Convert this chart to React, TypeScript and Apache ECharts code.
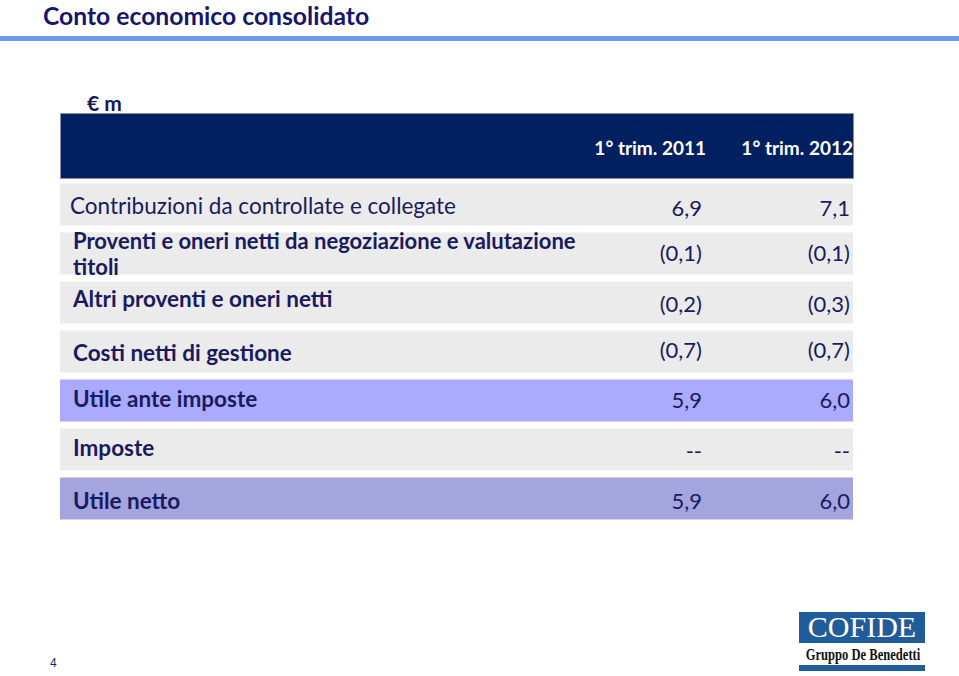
import React, { useEffect, useRef } from 'react';
import * as echarts from 'echarts';

// ---------- data ----------
const titleText = 'Conto economico consolidato';
const unitLabel = '€ m';
const periods = ['1° trim. 2011', '1° trim. 2012'];
const rowLabels = [
  'Contribuzioni da controllate e collegate',
  'Proventi e oneri netti da negoziazione e valutazione\ntitoli',
  'Altri proventi e oneri netti',
  'Costi netti di gestione',
  'Utile ante imposte',
  'Imposte',
  'Utile netto',
];
const values2011: (number | null)[] = [6.9, -0.1, -0.2, -0.7, 5.9, null, 5.9];
const values2012: (number | null)[] = [7.1, -0.1, -0.3, -0.7, 6.0, null, 6.0];
const pageNumber = '4';
const logoName = 'COFIDE';
const logoSub = 'Gruppo De Benedetti';

// ---------- styles / layout ----------
const rowFills = ['#ebebeb', '#ebebeb', '#ebebeb', '#ebebeb', '#aaaaff', '#ebebeb', '#a4a4de'];
const rowBold = [false, true, true, true, true, true, true];
const labelSize = [22.5, 22, 22.5, 22.5, 22.5, 22.5, 22.5];
const labelDy = [0.5, -0.5, -4, 1, -1.7, -2, 2];
const valueDy = [2.5, -1.3, 0.8, -2, -1, 1, 1.5];
const NAVY = '#1a1a5e';
const FONT = 'Lato, "Open Sans", sans-serif';

function fmt(v: number | null): string {
  if (v == null) return '--';
  const s = Math.abs(v).toFixed(1).replace('.', ',');
  return v < 0 ? `(${s})` : s;
}

export default function App() {
  const ref = useRef<HTMLDivElement>(null);
  useEffect(() => {
    if (!ref.current) return;
    const chart = echarts.init(ref.current, undefined, { renderer: 'svg' });
    const gridLeft = 60;
    const gridRight = 106;
    const col1Right = 642; // offset from grid left
    const option: any = {
      animation: false,
      backgroundColor: '#ffffff',
      grid: { left: gridLeft, right: gridRight, top: 180, height: 343 },
      xAxis: { type: 'value', min: 0, max: 1, show: false },
      yAxis: { type: 'category', data: rowLabels, inverse: true, show: false },
      graphic: [
        {
          type: 'text', x: 43, y: 15,
          style: { text: titleText, fill: '#16166c', font: `bold 24.7px ${FONT}`, verticalAlign: 'middle' },
        },
        { type: 'rect', shape: { x: 0, y: 36, width: 959, height: 5 }, style: { fill: '#6b97ee' } },
        {
          type: 'text', x: 87, y: 102,
          style: { text: unitLabel, fill: '#16165e', font: `bold 21px ${FONT}`, verticalAlign: 'middle' },
        },
        {
          type: 'rect', shape: { x: 60.5, y: 113.5, width: 793, height: 65 },
          style: { fill: '#002060', stroke: '#8c8ca6', lineWidth: 1 },
        },
        ...periods.map((p, i) => ({
          type: 'text', x: i === 0 ? 706 : 853, y: 147,
          style: { text: p, fill: '#ffffff', font: `bold 19px ${FONT}`, align: 'right', verticalAlign: 'middle' },
        })),
        {
          type: 'text', x: 50, y: 662.5,
          style: { text: pageNumber, fill: '#1f1f7a', font: '12px "Liberation Sans", Arial, sans-serif', verticalAlign: 'middle' },
        },
        // logo
        { type: 'rect', shape: { x: 799, y: 612, width: 126, height: 31 }, style: { fill: '#1f5c99' } },
        {
          type: 'text', x: 862, y: 641,
          style: { text: logoName, fill: '#ffffff', font: '30px "Liberation Serif", serif', align: 'center', verticalAlign: 'bottom' },
        },
        {
          type: 'text', x: 863, y: 654, scaleX: 0.74,
          style: { text: logoSub, fill: '#111111', font: 'bold 17px "Liberation Serif", serif', align: 'center', verticalAlign: 'middle' },
        },
        { type: 'rect', shape: { x: 799, y: 665, width: 126, height: 6 }, style: { fill: '#1f5c99' } },
      ],
      series: [
        {
          type: 'custom',
          data: rowLabels.map((_, i) => [0, i]),
          encode: { x: 0, y: 1 },
          renderItem: (params: any, api: any) => {
            const idx = api.value(1);
            const cy = api.coord([0, idx])[1];
            const band = api.size([0, 1])[1];
            const h = band - 7;
            const cs = params.coordSys;
            const valFont = `22px ${FONT}`;
            return {
              type: 'group',
              children: [
                {
                  type: 'rect',
                  shape: { x: cs.x, y: cy - h / 2, width: cs.width, height: h },
                  style: { fill: rowFills[idx] },
                },
                {
                  type: 'text',
                  style: {
                    text: rowLabels[idx], x: cs.x + (idx === 0 ? 10 : 13), y: cy + labelDy[idx],
                    fill: NAVY, font: `${rowBold[idx] ? 'bold ' : ''}${labelSize[idx]}px ${FONT}`,
                    verticalAlign: 'middle', lineHeight: 26,
                  },
                },
                {
                  type: 'text',
                  style: {
                    text: fmt(values2011[idx]), x: cs.x + col1Right, y: cy + valueDy[idx],
                    fill: NAVY, font: valFont, align: 'right', verticalAlign: 'middle',
                  },
                },
                {
                  type: 'text',
                  style: {
                    text: fmt(values2012[idx]), x: cs.x + cs.width - 3, y: cy + valueDy[idx],
                    fill: NAVY, font: valFont, align: 'right', verticalAlign: 'middle',
                  },
                },
              ],
            };
          },
        },
      ],
    };
    chart.setOption(option);
    return () => chart.dispose();
  }, []);
  return <div ref={ref} style={{ position: 'absolute', left: 0, top: 0, width: 959, height: 676 }} />;
}
